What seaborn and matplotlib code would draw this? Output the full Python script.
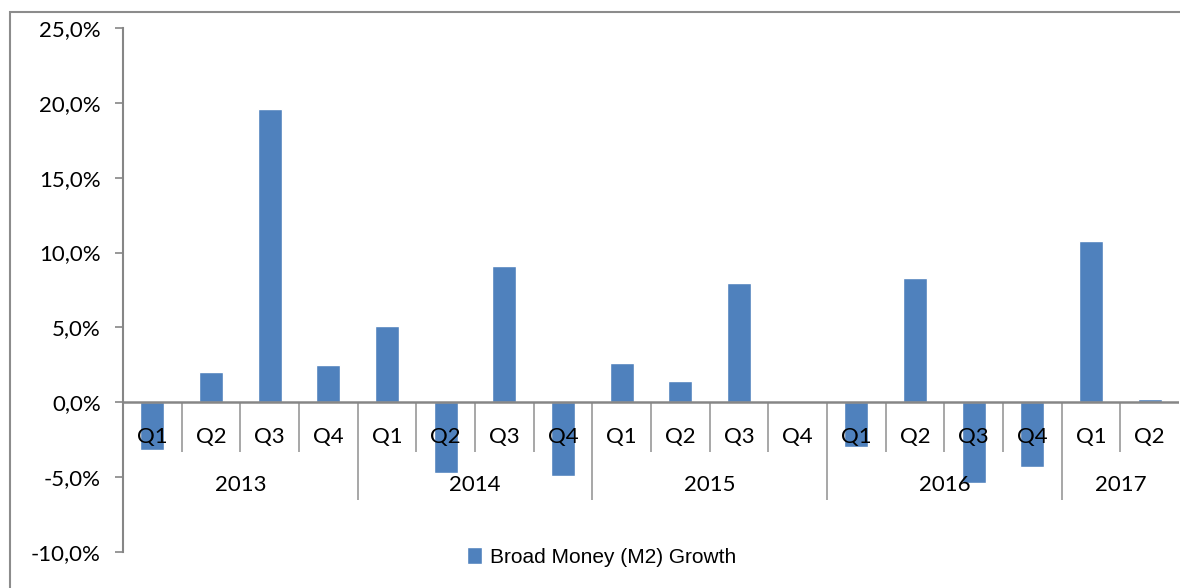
import numpy as np
import pandas as pd
import matplotlib
matplotlib.use("Agg")
import matplotlib.pyplot as plt
import seaborn as sns
from matplotlib.ticker import FuncFormatter, MultipleLocator
from matplotlib.patches import Rectangle

# ---- data ----
years = ["2013", "2014", "2015", "2016", "2017"]
quarters_per_year = [4, 4, 4, 4, 2]
quarter_labels = ["Q1", "Q2", "Q3", "Q4"]
m2_growth = [-3.2, 2.0, 19.6, 2.5,
             5.1, -4.7, 9.1, -4.9,
             2.6, 1.4, 8.0, 0.05,
             -3.0, 8.3, -5.4, -4.3,
             10.8, 0.2]
series_name = "Broad Money (M2) Growth"

periods, qlab = [], []
for y, n in zip(years, quarters_per_year):
    for q in quarter_labels[:n]:
        periods.append(f"{y} {q}")
        qlab.append(q)

df = pd.DataFrame({"period": periods, "growth": m2_growth})

sns.set_theme(style="white")
plt.rcParams['font.family'] = ['Lato', 'DejaVu Sans']
plt.rcParams['text.color'] = 'black'

fig = plt.figure(figsize=(11.8, 5.88), dpi=100)
ax = fig.add_axes([0.1042, 0.0612, 0.895, 0.8912])

bar_color = "#4F81BD"
sns.barplot(data=df, x="period", y="growth", order=periods, color=bar_color,
            width=0.41, saturation=1, ax=ax, label=series_name, zorder=2)

ax.set_ylim(-10, 25)
ax.set_xlim(-0.5, len(periods) - 0.5)
ax.yaxis.set_major_locator(MultipleLocator(5))
ax.yaxis.set_major_formatter(FuncFormatter(lambda v, p: f"{v:.1f}%".replace(".", ",")))
ax.tick_params(axis="y", which="major", left=True, length=6, width=1.2,
               color="#868686", labelsize=16, pad=10, labelcolor="black")
ax.set_xticks([])
ax.set_xlabel("")
ax.set_ylabel("")

for s in ["top", "right", "bottom"]:
    ax.spines[s].set_visible(False)
ax.spines["left"].set_color("#868686")
ax.spines["left"].set_linewidth(1.5)
ax.axhline(0, color="#868686", lw=1.8, zorder=3)

# multi-level category axis
pos = np.arange(len(periods))
for x, q in zip(pos, qlab):
    ax.text(x, -2.34, q, ha="center", va="center", fontsize=16, color="black", zorder=5)

bounds = np.cumsum(quarters_per_year)
start = 0
for y, n in zip(years, quarters_per_year):
    ax.text(start + (n - 1) / 2, -5.55, y, ha="center", va="center", fontsize=16,
            color="black", zorder=5)
    start += n

year_edges = set((bounds[:-1] - 0.5).tolist())
for b in np.arange(0.5, len(periods) - 0.5, 1.0):
    bottom = -6.5 if b in year_edges else -3.3
    ax.vlines(b, bottom, 0, color="#a0a0a0", lw=1.3, zorder=1)

# legend
handles, labels = ax.get_legend_handles_labels()
leg = fig.legend(handles, labels, loc="center", bbox_to_anchor=(0.51, 0.053), frameon=False,
                 handlelength=0.7, handleheight=0.9, handletextpad=0.4,
                 prop={"family": ["Liberation Sans Narrow", "Liberation Sans"], "size": 15})
for t in leg.get_texts():
    t.set_color("black")
if ax.get_legend():
    ax.get_legend().remove()

# outer chart frame (only left/top edges are visible in the crop)
fig.add_artist(Rectangle((10 / 1180, -0.1), 1.2, 1 - 12 / 588 + 0.1,
                         transform=fig.transFigure, fill=False,
                         edgecolor="#8c8c8c", lw=1.5))

fig.savefig("out.png", dpi=100)
